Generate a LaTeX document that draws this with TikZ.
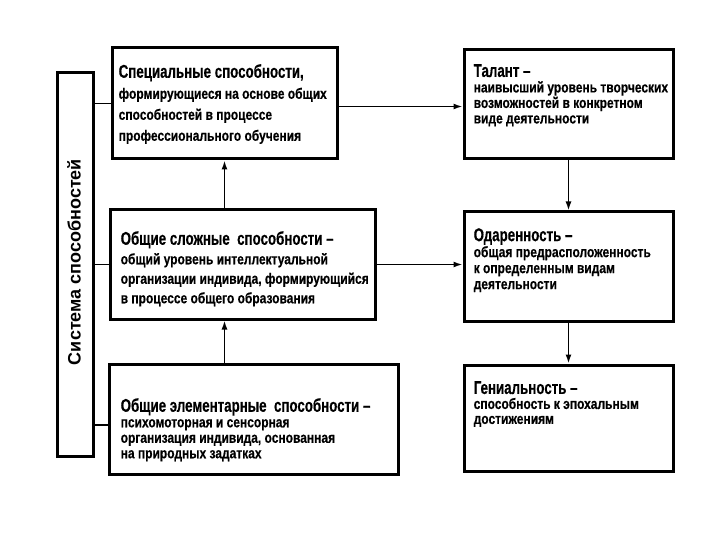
\documentclass[tikz,border=0pt]{standalone}
\usepackage{fontspec}
\setmainfont{Liberation Sans}
\newfontfamily\headfont{Liberation Sans}[FakeStretch=0.72, FakeBold=0.4]
\newfontfamily\bodyfont{Liberation Sans}[FakeStretch=0.8, FakeBold=0.4]
\usetikzlibrary{positioning, arrows.meta, calc}

\newcommand\boxtitle[1]{{\headfont\bfseries\fontsize{18.5}{20}\selectfont #1}}

\begin{document}
\begin{tikzpicture}[
  x=1pt, y=-1pt,
  frame/.style={draw, line width=3pt, inner sep=0pt},
  txt/.style={anchor=north west, inner sep=0pt, align=left,
    font=\bodyfont\bfseries\fontsize{15}{#1}\selectfont},
  txt/.default=16,
  link/.style={line width=1.6pt},
  arr/.style={line width=1.6pt, -{Latex[length=9pt, width=6pt]}},
]
  \useasboundingbox (0,0) rectangle (720,540);

  % left column
  \node[frame, minimum width=36pt, minimum height=383pt] (sys) at (75,264.5) {};
  \node[rotate=90, font=\bfseries\fontsize{18}{20}\selectfont] (sys-lbl) at (74,262) {Система способностей};

  \node[frame, minimum width=225pt, minimum height=111pt] (spec)  at (224.5,103.5) {};
  \node[frame, minimum width=265pt, minimum height=109pt] (slozh) at (242.5,264.5) {};
  \node[frame, minimum width=289pt, minimum height=110pt] (elem)  at (253.5,419) {};

  % right column
  \node[frame, minimum width=209pt, minimum height=109pt] (tal)  at (568.5,104.5) {};
  \node[frame, minimum width=209pt, minimum height=109pt] (odar) at (568.5,266.5) {};
  \node[frame, minimum width=209pt, minimum height=106pt] (gen)  at (568.5,418) {};

  % texts
  \node[txt=21] (spec-t) at ([shift={(8,17.5)}]spec.north west)
    {\boxtitle{Специальные способности,}\\ формирующиеся на основе общих\\ способностей в процессе\\ профессионального обучения};
  \node[txt=19.5] (slozh-t) at ([shift={(12,22.5)}]slozh.north west)
    {\boxtitle{Общие сложные\ \ способности –}\\ общий уровень интеллектуальной\\ организации индивида, формирующийся\\ в процессе общего образования};
  \node[txt=15.5] (elem-t) at ([shift={(13,35.5)}]elem.north west)
    {\boxtitle{Общие элементарные\ \ способности –}\\ психомоторная и сенсорная\\ организация индивида, основанная\\ на природных задатках};
  \node[txt=15.5] (tal-t) at ([shift={(11,15.5)}]tal.north west)
    {\boxtitle{Талант –}\\ наивысший уровень творческих\\ возможностей в конкретном\\ виде деятельности};
  \node[txt=16] (odar-t) at ([shift={(11,17.5)}]odar.north west)
    {\boxtitle{Одаренность –}\\ общая предрасположенность\\ к определенным видам\\ деятельности};
  \node[txt=15] (gen-t) at ([shift={(11,17.5)}]gen.north west)
    {\boxtitle{Гениальность –}\\ способность к эпохальным\\ достижениям};

  % connectors
  \draw[link] (sys.east |- spec.west) -- (spec.west);
  \draw[link] (sys.east |- slozh.west) -- (slozh.west);
  \draw[link] ([yshift=-6pt]elem.west -| sys.east) -- ([yshift=-6pt]elem.west);

  \draw[arr] (spec.south |- elem.north) -- (spec.south |- slozh.south);
  \draw[arr] (spec.south |- slozh.north) -- (spec.south);

  \draw[arr] ([yshift=-3pt]spec.east) -- ([yshift=-3pt]spec.east -| tal.west);
  \draw[arr] (slozh.east) -- (slozh.east -| odar.west);
  \draw[arr] (tal.south) -- (odar.north);
  \draw[arr] (odar.south) -- (gen.north);
\end{tikzpicture}
\end{document}
